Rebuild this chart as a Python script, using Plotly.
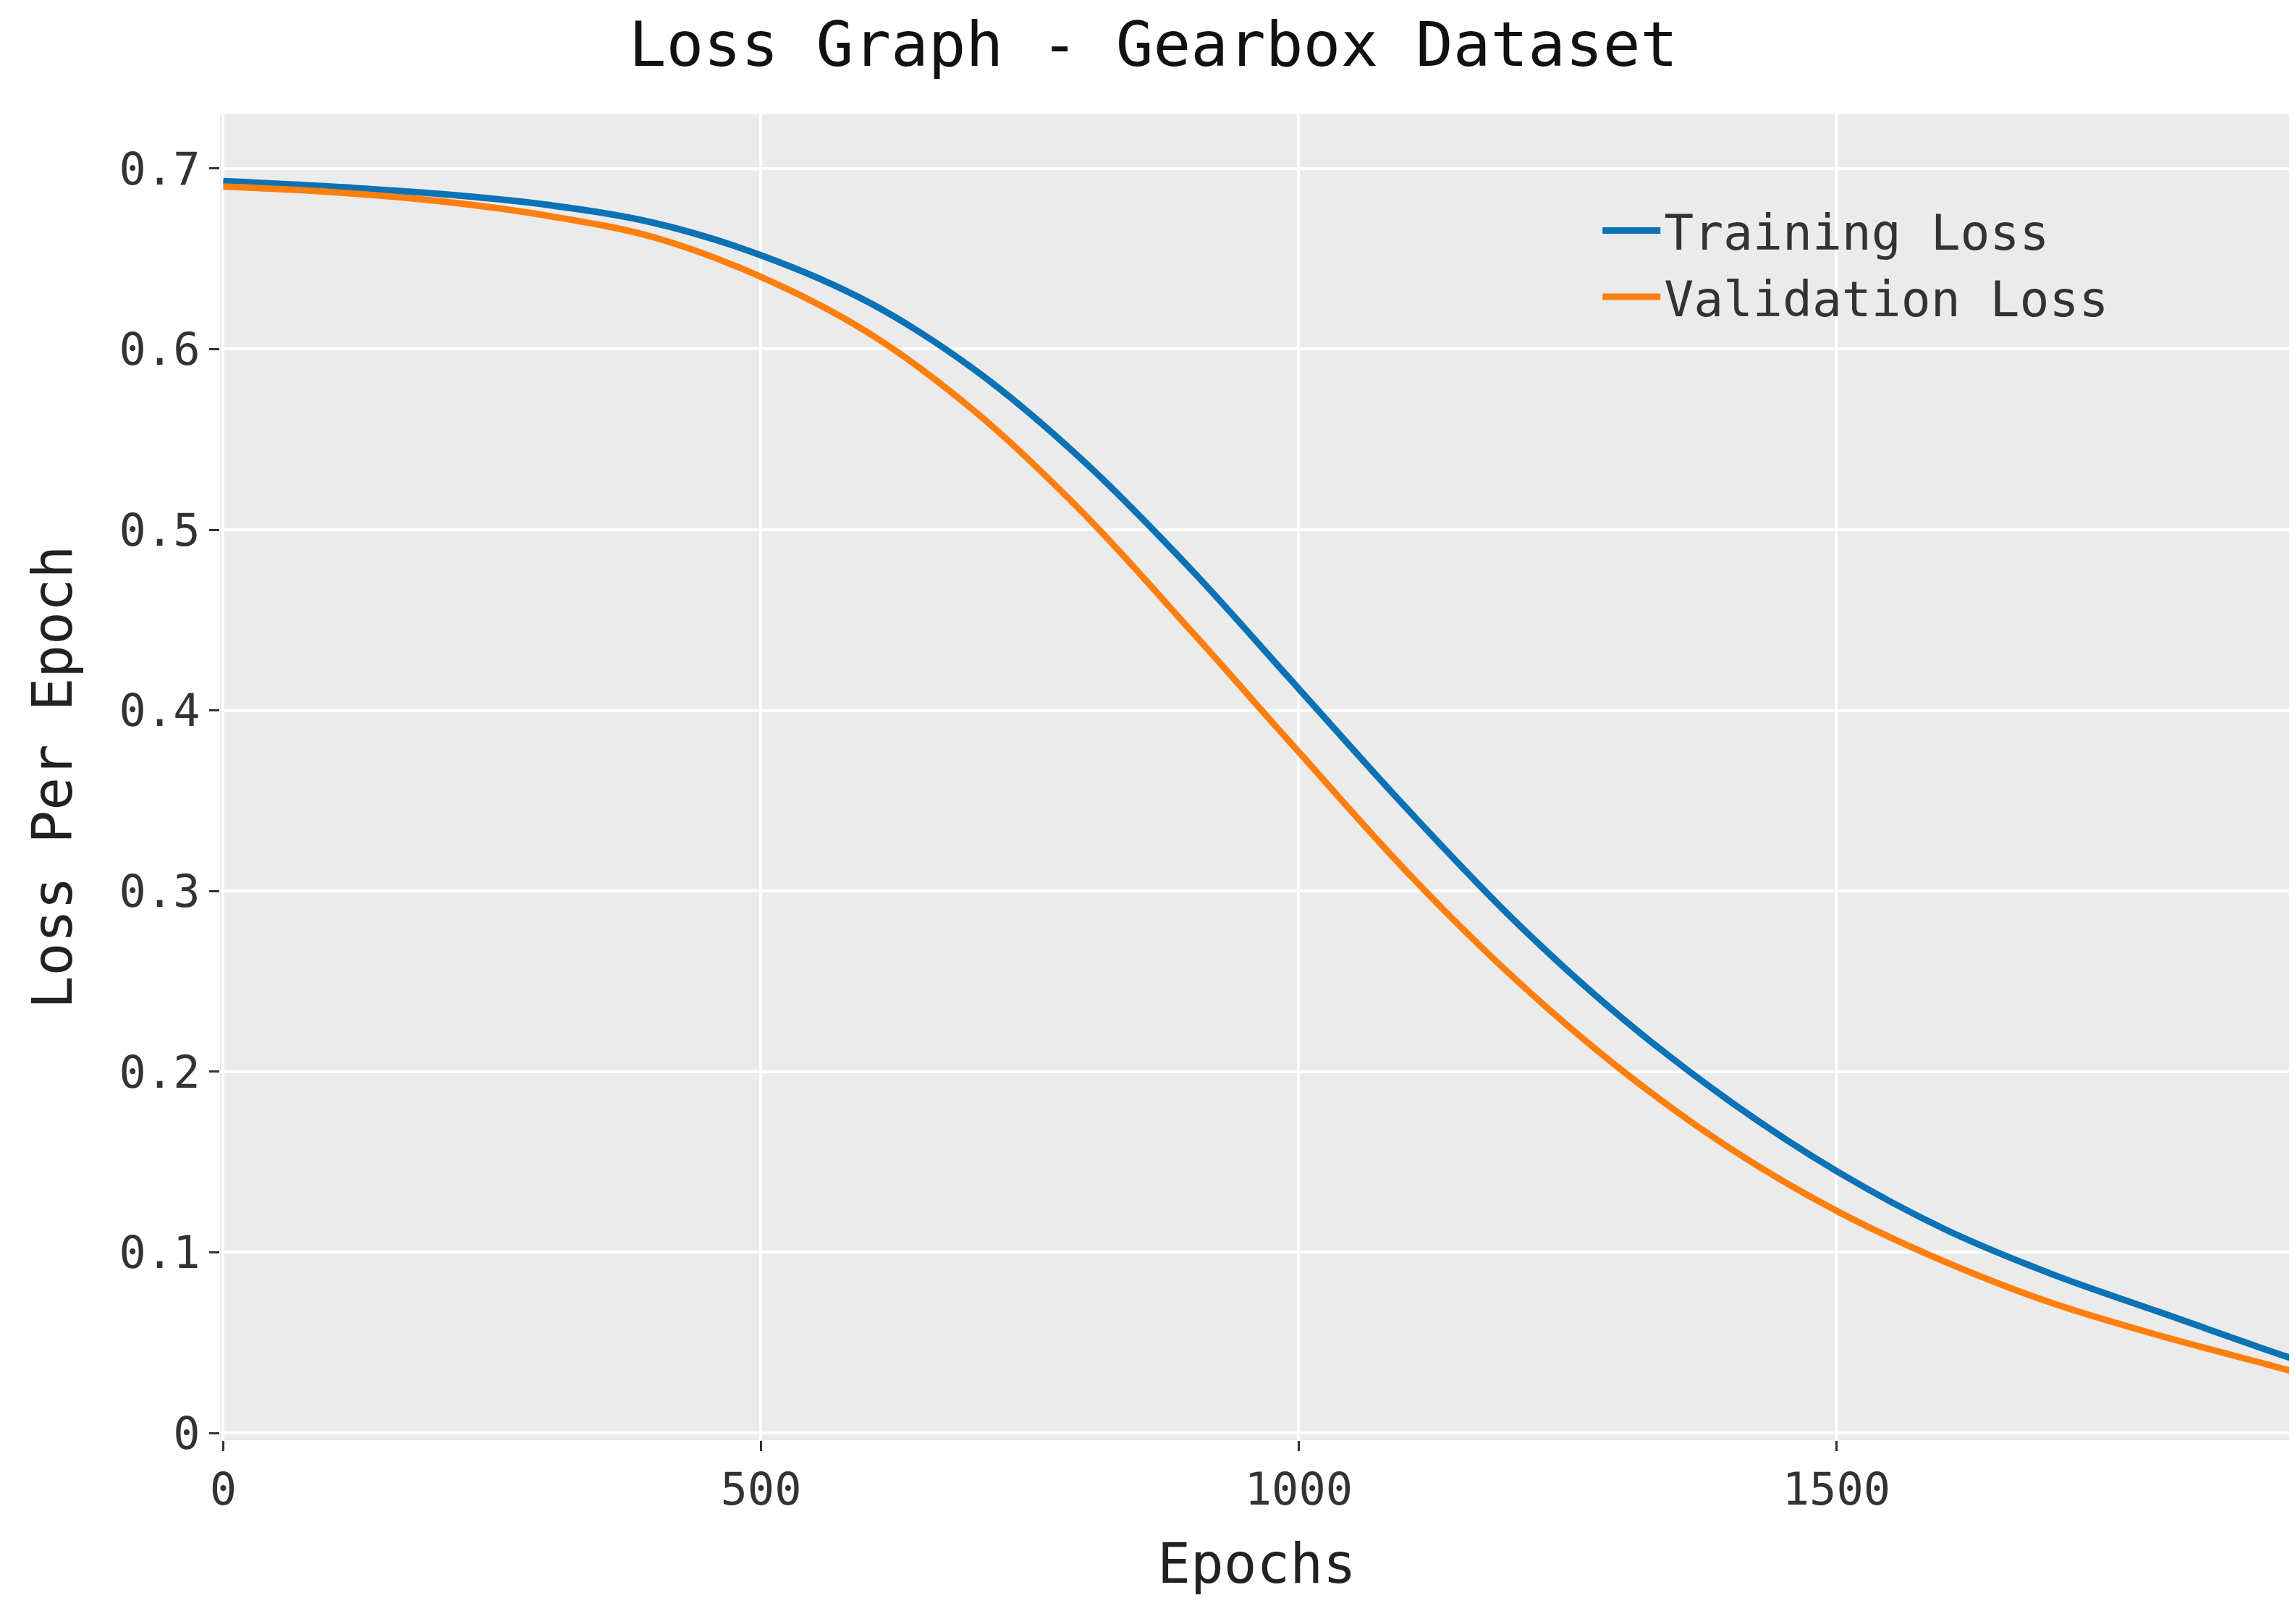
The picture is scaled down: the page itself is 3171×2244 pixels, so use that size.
import plotly.graph_objects as go

epochs = [0,100,200,300,400,500,600,700,800,900,1000,1100,1200,1300,1400,1500,1600,1700,1800,1900,1925]
train_loss = [0.693,0.690,0.686,0.680,0.670,0.652,0.626,0.588,0.538,0.478,0.412,0.346,0.284,0.230,0.184,0.145,0.113,0.088,0.067,0.046,0.041]
val_loss = [0.690,0.687,0.682,0.674,0.662,0.640,0.609,0.565,0.509,0.444,0.377,0.311,0.252,0.201,0.158,0.123,0.095,0.072,0.054,0.038,0.034]
xticks = [0,500,1000,1500]
yticks = [0,0.1,0.2,0.3,0.4,0.5,0.6,0.7]
ylabels = ["0","0.1","0.2","0.3","0.4","0.5","0.6","0.7"]

font = "DejaVu Sans Mono"
fig = go.Figure()
fig.add_trace(go.Scatter(x=epochs, y=train_loss, mode="lines", name="Training Loss",
                         line=dict(color="#0a72b5", width=9, shape="spline")))
fig.add_trace(go.Scatter(x=epochs, y=val_loss, mode="lines", name="Validation Loss",
                         line=dict(color="#ff7f0e", width=9, shape="spline")))
fig.update_layout(
    width=3171, height=2244,
    paper_bgcolor="white", plot_bgcolor="#ebebeb",
    margin=dict(l=296, r=10, t=150, b=262),
    font=dict(family=font, size=62, color="#333333"),
    title=dict(text="Loss Graph - Gearbox Dataset", x=0.5, xanchor="center", y=0.99, yanchor="top",
               font=dict(size=86, color="#111111")),
    showlegend=True,
    legend=dict(x=0.665, y=0.94, xanchor="left", yanchor="top", bgcolor="rgba(0,0,0,0)",
                itemwidth=80, font=dict(size=68, color="#333333")),
    xaxis=dict(title=dict(text="Epochs", font=dict(size=76, color="#222222"), standoff=40),
               range=[-3, 1925], tickvals=xticks, showgrid=True, gridcolor="white", gridwidth=4,
               zeroline=False, ticks="outside", ticklen=14, tickwidth=3, tickcolor="#333",
               showline=False),
    yaxis=dict(title=dict(text="Loss Per Epoch", font=dict(size=76, color="#222222"), standoff=40),
               range=[-0.004, 0.73], tickvals=yticks, ticktext=ylabels, showgrid=True, gridcolor="white",
               gridwidth=4, zeroline=False, ticks="outside", ticklen=14, tickwidth=3, tickcolor="#333"),
)
fig.write_html("out.html")
